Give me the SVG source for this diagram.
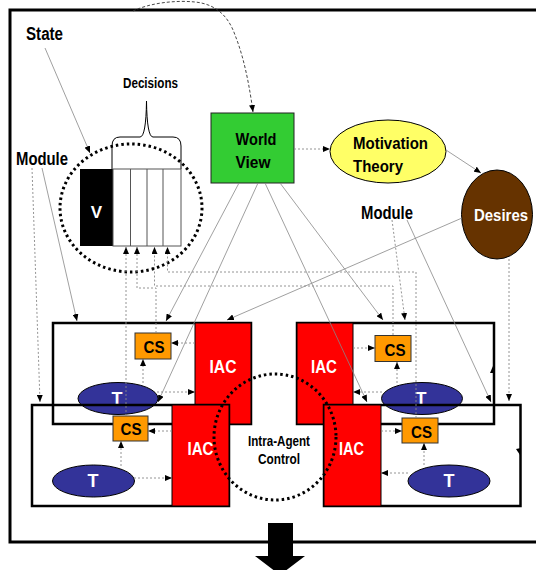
<svg xmlns="http://www.w3.org/2000/svg" width="536" height="570" viewBox="0 0 536 570">
<defs>
<style>
text{font-family:"Liberation Sans",Arial,sans-serif;font-weight:bold}
.lbl{font-size:18px;fill:#000}
.wt{fill:#fff}
.box{fill:none;stroke:#000;stroke-width:2.5}
.iac{fill:#f00;stroke:#000;stroke-width:1}
.cs{fill:#f90;stroke:#333;stroke-width:1}
.t{fill:#339;stroke:#000;stroke-width:1}
.ln{fill:none;stroke:#888;stroke-width:0.8}
.dl{fill:none;stroke:#888;stroke-width:0.9;stroke-dasharray:2 2}
.dk{fill:none;stroke:#333;stroke-width:0.9;stroke-dasharray:3 2}
.dots{fill:none;stroke:#000;stroke-width:3;stroke-dasharray:2.5 3}
</style>
<marker id="ah" markerWidth="7" markerHeight="6" refX="7" refY="3" orient="auto" markerUnits="userSpaceOnUse"><path d="M0,0 L7,3 L0,6 z" fill="#000"/></marker>
</defs>
<rect width="536" height="570" fill="#fff"/>
<path d="M536,10 H10 V542 H536" fill="none" stroke="#000" stroke-width="3"/>

<g id="state-label"><text class="lbl" x="26" y="40" textLength="37" lengthAdjust="spacingAndGlyphs">State</text></g>
<g id="module-label-left"><text class="lbl" x="16" y="165" textLength="52" lengthAdjust="spacingAndGlyphs">Module</text></g>
<g id="module-label-right"><text class="lbl" x="361" y="219" textLength="52" lengthAdjust="spacingAndGlyphs">Module</text></g>
<g id="decisions-label"><text x="123" y="88" font-size="14" textLength="55" lengthAdjust="spacingAndGlyphs">Decisions</text>
<path d="M112,169 V146 Q112,137 120,137 H140 Q146,137 146.5,101 Q147,137 153,137 H173 Q181,137 181,146 V169" fill="none" stroke="#000" stroke-width="1"/></g>

<g id="state-module">
<rect x="80" y="169" width="33" height="77" fill="#000"/>
<rect x="113" y="169" width="68" height="77" fill="#fff" stroke="#555" stroke-width="1"/>
<path d="M130.5,169 V246 M147,169 V246 M163,169 V246" stroke="#555" stroke-width="1"/>
<text class="wt" x="96.5" y="218" font-size="17" text-anchor="middle">V</text>
<ellipse class="dots" cx="131" cy="208" rx="71" ry="64"/>
</g>

<g id="world-view"><rect x="211" y="113" width="83" height="70" fill="#3c3" stroke="#222" stroke-width="1"/>
<text x="256" y="145" font-size="17" text-anchor="middle" textLength="41" lengthAdjust="spacingAndGlyphs">World</text>
<text x="253" y="168" font-size="17" text-anchor="middle" textLength="35" lengthAdjust="spacingAndGlyphs">View</text></g>

<g id="motivation-theory"><ellipse cx="388" cy="151.5" rx="58" ry="31.5" fill="#ff6" stroke="#000" stroke-width="1"/>
<text x="353" y="149" font-size="17" textLength="75" lengthAdjust="spacingAndGlyphs">Motivation</text>
<text x="353" y="172" font-size="17" textLength="50" lengthAdjust="spacingAndGlyphs">Theory</text></g>

<g id="desires"><ellipse cx="497" cy="214.5" rx="35.5" ry="44.5" fill="#630" stroke="#000" stroke-width="1"/>
<text class="wt" x="474" y="221" font-size="17" textLength="54" lengthAdjust="spacingAndGlyphs">Desires</text></g>

<g id="module-a">
<rect class="box" x="53" y="323" width="198" height="101"/>
<rect class="iac" x="195" y="323" width="56" height="101"/>
<text class="wt" x="223" y="373" font-size="18" text-anchor="middle" textLength="27" lengthAdjust="spacingAndGlyphs">IAC</text>
<rect class="cs" x="135" y="333" width="36" height="26"/>
<text x="154" y="353" font-size="17" text-anchor="middle" textLength="21" lengthAdjust="spacingAndGlyphs">CS</text>
<ellipse class="t" cx="118" cy="398.5" rx="40" ry="16"/>
<text class="wt" x="117" y="405" font-size="18" text-anchor="middle">T</text>
</g>

<g id="module-b">
<rect class="box" x="32" y="405" width="197" height="101"/>
<rect class="iac" x="172" y="405" width="57" height="101"/>
<text class="wt" x="200.5" y="455" font-size="18" text-anchor="middle" textLength="26" lengthAdjust="spacingAndGlyphs">IAC</text>
<rect class="cs" x="113" y="416" width="35" height="25"/>
<text x="131" y="435" font-size="17" text-anchor="middle" textLength="21" lengthAdjust="spacingAndGlyphs">CS</text>
<ellipse class="t" cx="93.5" cy="481" rx="41" ry="16"/>
<text class="wt" x="93" y="487" font-size="18" text-anchor="middle">T</text>
</g>

<g id="module-c">
<rect class="box" x="297" y="323" width="197" height="101"/>
<rect class="iac" x="297" y="323" width="56" height="101"/>
<text class="wt" x="324" y="373" font-size="18" text-anchor="middle" textLength="26" lengthAdjust="spacingAndGlyphs">IAC</text>
<rect class="cs" x="375" y="335.5" width="36" height="26"/>
<text x="395" y="356" font-size="17" text-anchor="middle" textLength="21" lengthAdjust="spacingAndGlyphs">CS</text>
<ellipse class="t" cx="422" cy="398.5" rx="40.5" ry="16"/>
<text class="wt" x="421" y="405" font-size="18" text-anchor="middle">T</text>
</g>

<g id="module-d">
<rect class="box" x="324" y="405" width="196.5" height="101"/>
<rect class="iac" x="324" y="405" width="57" height="101"/>
<text class="wt" x="351.5" y="455" font-size="18" text-anchor="middle" textLength="25" lengthAdjust="spacingAndGlyphs">IAC</text>
<rect class="cs" x="402" y="418" width="36" height="25"/>
<text x="421.5" y="438" font-size="17" text-anchor="middle" textLength="21" lengthAdjust="spacingAndGlyphs">CS</text>
<ellipse class="t" cx="449" cy="481" rx="41" ry="16"/>
<text class="wt" x="449" y="487" font-size="18" text-anchor="middle">T</text>
</g>

<g id="connectors">
<path class="dk" d="M133,11 C150,3 175,0 195,2 C215,4 228,15 235,35 C245,60 250,90 253,112" marker-end="url(#ah)"/>
<path class="ln" d="M45,48 L90,153" marker-end="url(#ah)"/>
<path class="dl" d="M32,168 L40,402" marker-end="url(#ah)"/>
<path class="ln" d="M42,168 L77,321" marker-end="url(#ah)"/>
<path class="ln" d="M239,183 L166,321" marker-end="url(#ah)"/>
<path class="ln" d="M258,183 L158,402" marker-end="url(#ah)"/>
<path class="ln" d="M265,183 L367,402" marker-end="url(#ah)"/>
<path class="ln" d="M280,183 L383,320" marker-end="url(#ah)"/>
<path class="ln" d="M462,218 L227,320" marker-end="url(#ah)"/>
<path class="dl" d="M392,220 L405,320" marker-end="url(#ah)"/>
<path class="ln" d="M407,220 L491,402" marker-end="url(#ah)"/>
<path class="dl" d="M509,259 V401" marker-end="url(#ah)"/>
<path class="dl" d="M294,149 H330" marker-end="url(#ah)"/>
<path class="ln" d="M446,150 L481,173" marker-end="url(#ah)"/>
<path class="dl" d="M126,416 V247" marker-end="url(#ah)"/>
<path class="dl" d="M156,333 V288 H137 V247" marker-end="url(#ah)"/>
<path class="dl" d="M393,335 V286 H154.5 V247" marker-end="url(#ah)"/>
<path class="dl" d="M416,418 V272 H167.5 V247" marker-end="url(#ah)"/>
<path class="dl" d="M195,343 H171" marker-end="url(#ah)"/>
<path class="dl" d="M157,392 H195" marker-end="url(#ah)"/>
<path class="dl" d="M143,383 V359" marker-end="url(#ah)"/>
<path class="dl" d="M172,431 H148" marker-end="url(#ah)"/>
<path class="dl" d="M134,478 H172" marker-end="url(#ah)"/>
<path class="dl" d="M121,466 V441" marker-end="url(#ah)"/>
<path class="dl" d="M353,348 H375" marker-end="url(#ah)"/>
<path class="dl" d="M382,392 H353" marker-end="url(#ah)"/>
<path class="dl" d="M397,383 V362" marker-end="url(#ah)"/>
<path class="dl" d="M381,431 H402" marker-end="url(#ah)"/>
<path class="dl" d="M408,473 H381" marker-end="url(#ah)"/>
<path class="dl" d="M424,465 V443" marker-end="url(#ah)"/>
<path d="M490,373 L493,366 L494,373 z" fill="#000"/>
<path d="M516,449 L520,455 L521,448 z" fill="#000"/>
</g>

<g id="intra-agent-control">
<ellipse class="dots" cx="275" cy="437" rx="61" ry="63"/>
<text x="279" y="446" font-size="14" text-anchor="middle" textLength="62" lengthAdjust="spacingAndGlyphs">Intra-Agent</text>
<text x="279" y="464" font-size="14" text-anchor="middle" textLength="42" lengthAdjust="spacingAndGlyphs">Control</text>
</g>

<g id="output-arrow"><path d="M268,523 H293 V556 H305 L280,575 L255,556 H268 z" fill="#000"/></g>
</svg>
